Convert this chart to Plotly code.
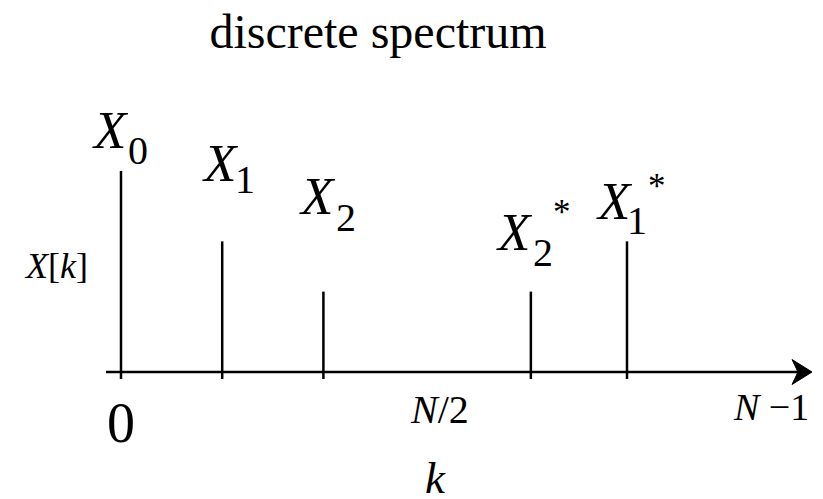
import plotly.graph_objects as go

# ---- data ----
k_index = [0, 1, 2, 4.05, 5]          # stem positions along k
magnitude = [2.0, 1.3, 0.8, 0.8, 1.3] # |X[k]|
stem_names = ["0", "1", "2", "2*", "1*"]
tick_labels = ["0", "<i>N</i>/2", "<i>N</i> \u22121"]
tick_pos = [0, 3.15, 6.42]

PAGE_W, PAGE_H = 823, 499
OFF = 8                      # default body margin of the html page
W, H = PAGE_W - OFF, PAGE_H - OFF
X0PX, XSCALE = 121, 101.2    # page px of k=0 and px per unit
Y0PX, YSCALE = 372, 100.5    # page px of baseline and px per unit
xr = [(OFF - X0PX) / XSCALE, (PAGE_W - X0PX) / XSCALE]
yr = [(Y0PX - PAGE_H) / YSCALE, (Y0PX - OFF) / YSCALE]

def px2x(p):
    return (p - X0PX) / XSCALE

def px2y(p):
    return (Y0PX - p) / YSCALE

FONT = "Liberation Serif, Times New Roman, serif"
LW = 2.5

fig = go.Figure()

# stems
sx, sy = [], []
for k, m in zip(k_index, magnitude):
    sx += [k, k, None]
    sy += [0, m, None]
fig.add_trace(go.Scatter(x=sx, y=sy, mode="lines",
                         line=dict(color="black", width=LW),
                         hoverinfo="skip", showlegend=False))
# small ticks below axis
tx, ty = [], []
tick_len = 7 / YSCALE
for k in k_index:
    tx += [k, k, None]
    ty += [0, -tick_len, None]
fig.add_trace(go.Scatter(x=tx, y=ty, mode="lines",
                         line=dict(color="black", width=LW),
                         hoverinfo="skip", showlegend=False))

# horizontal axis line with arrow
x_start = px2x(106)
x_tip = px2x(812)
fig.add_shape(type="line", x0=x_start, x1=px2x(800), y0=0, y1=0,
              line=dict(color="black", width=LW))
ah_len = 20 / XSCALE
ah_half = 12.5 / YSCALE
notch = 6 / XSCALE
path = (f"M {x_tip},0 L {x_tip-ah_len},{ah_half} "
        f"L {x_tip-ah_len+notch},0 L {x_tip-ah_len},{-ah_half} Z")
fig.add_shape(type="path", path=path, fillcolor="black",
              line=dict(color="black", width=1))

def txt(text, xpx, ypx, size):
    fig.add_annotation(x=px2x(xpx), y=px2y(ypx), text=text, showarrow=False,
                       xanchor="center", yanchor="middle",
                       font=dict(family=FONT, size=size, color="black"))

# stem labels: main X, subscript, star (page px positions)
main_pos = [(110, 130), (220, 163), (317, 196), (514, 232), (614, 201)]
sub_pos = [(138, 150), (245, 179), (346, 217), (543, 252), (637, 220)]
star_pos = [None, None, None, (562, 212), (657, 186)]
for name, mp, sp, stp in zip(stem_names, main_pos, sub_pos, star_pos):
    txt("<i>X</i>", mp[0], mp[1], 53)
    txt(name[0], sp[0], sp[1], 40)
    if stp is not None:
        txt("*", stp[0], stp[1], 35)

# axis labels
txt("<i>X</i>[<i>k</i>]", 56, 266, 36)
txt("<i>k</i>", 435, 478, 45)
tick_px = [(119, 423, 56), (439, 409, 40), (768, 407, 38)]
for lab, pos, (xp, yp, fs) in zip(tick_labels, tick_pos, tick_px):
    fig.add_annotation(x=pos, y=px2y(yp), text=lab, showarrow=False,
                       xanchor="center", yanchor="middle",
                       font=dict(family=FONT, size=fs, color="black"))

fig.update_layout(
    width=W, height=H,
    margin=dict(l=0, r=0, t=0, b=0),
    paper_bgcolor="white", plot_bgcolor="white",
    title=dict(text="discrete spectrum", x=(378 - OFF) / W, xanchor="center",
               y=1 - (31 - OFF) / H, yanchor="middle",
               font=dict(family=FONT, size=48, color="black")),
    xaxis=dict(range=xr, visible=False, fixedrange=True),
    yaxis=dict(range=yr, visible=False, fixedrange=True),
    showlegend=False,
)

fig.write_html("out.html")
